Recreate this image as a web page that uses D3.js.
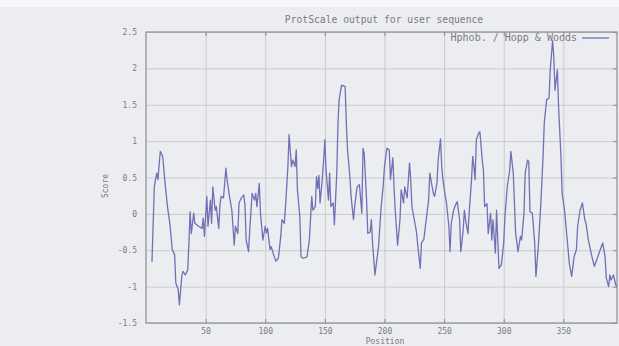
<!DOCTYPE html>
<html>
<head>
<meta charset="utf-8">
<script src="https://cdn.jsdelivr.net/npm/d3@7"></script>
<style>
  body { margin: 0; background: #ededf0; }
  svg { display: block; }
  text { font-family: "DejaVu Sans Mono", monospace; fill: #7a7a84; }
</style>
</head>
<body>
<script>
// ProtScale Hphob. / Hopp & Woods profile
const positions = [5,7,9,10,12,14,16,18,20,22,24,25,27,28,30,31,33,35,36,37,38,40,41,44,47,48,49,51,52,54,55,56,58,59,61,62,63,65,67,68,70,72,74,75,77,78,80,82,83,84,86,87,89,91,92,93,95,96,
  98,100,101,102,104,105,107,109,111,113,114,116,117,119,120,122,123,125,126,127,129,130,132,135,137,139,140,142,143,144,145,146,148,149,150,151,153,154,155,157,158,160,161,162,164,167,168,169,171,172,174,175,177,179,181,182,183,185,186,188,189,190,192,195,197,199,
  200,202,204,205,207,208,209,211,213,214,216,217,219,221,222,223,226,227,228,230,231,233,235,237,238,240,241,242,244,245,247,248,249,251,252,254,255,256,258,259,261,263,264,266,267,268,270,271,273,274,275,276,277,279,280,282,283,284,286,287,289,290,291,293,294,296,298,
  300,301,303,305,306,308,309,310,312,314,315,317,318,320,321,322,324,326,327,329,331,333,334,336,338,339,341,342,343,345,346,348,349,351,353,355,357,359,361,362,364,366,368,369,371,374,376,378,381,383,385,386,388,389,390,392,394,395];
const scores = [-0.66,0.38,0.56,0.47,0.86,0.79,0.42,0.10,-0.13,-0.49,-0.56,-0.95,-1.04,-1.25,-0.86,-0.79,-0.84,-0.77,-0.40,0.03,-0.27,0.01,-0.13,-0.17,-0.20,-0.06,-0.31,0.24,-0.17,0.19,-0.13,0.37,0.05,0.10,-0.20,0.12,0.24,0.22,0.63,0.47,0.24,0.05,-0.43,-0.17,-0.27,0.15,0.22,0.26,0.12,-0.36,-0.52,-0.22,0.28,0.19,0.28,0.10,0.42,0.01,
  -0.36,-0.17,-0.26,-0.20,-0.49,-0.45,-0.56,-0.65,-0.61,-0.31,-0.08,-0.13,0.10,0.65,1.09,0.65,0.74,0.65,0.88,0.33,-0.04,-0.59,-0.61,-0.59,-0.36,0.24,0.05,0.10,0.51,0.35,0.53,0.15,0.51,0.74,1.02,0.60,0.19,0.56,0.10,0.15,-0.15,0.56,1.25,1.57,1.77,1.75,1.25,0.88,0.51,0.24,-0.08,0.10,0.37,0.40,0.01,0.90,0.83,0.19,-0.27,-0.25,-0.08,-0.40,-0.84,-0.45,0.05,0.40,
  0.65,0.90,0.88,0.47,0.77,0.37,0.05,-0.43,-0.08,0.33,0.15,0.37,0.22,0.70,0.47,0.10,-0.17,-0.27,-0.45,-0.75,-0.40,-0.35,-0.08,0.19,0.56,0.37,0.28,0.24,0.42,0.74,1.03,0.65,0.47,0.24,0.15,-0.17,-0.52,-0.13,0.05,0.10,0.17,-0.08,-0.52,-0.22,0.05,-0.08,-0.27,0.01,0.47,0.79,0.65,0.47,1.02,1.11,1.13,0.74,0.60,0.10,0.14,-0.27,0.01,-0.36,-0.08,-0.54,0.05,-0.75,-0.70,
  -0.40,-0.04,0.38,0.60,0.86,0.56,0.15,-0.27,-0.52,-0.31,-0.36,0.01,0.56,0.74,0.72,0.03,0.01,-0.40,-0.86,-0.45,0.10,0.79,1.25,1.57,1.59,1.98,2.38,2.16,1.70,1.98,1.47,0.79,0.28,0.05,-0.31,-0.68,-0.86,-0.59,-0.49,-0.17,0.05,0.15,-0.08,-0.13,-0.36,-0.59,-0.72,-0.63,-0.49,-0.40,-0.59,-0.88,-1.00,-0.84,-0.91,-0.84,-0.98,-1.00];

const xTicks = [50, 100, 150, 200, 250, 300, 350];
const yTicks = [-1.5, -1, -0.5, 0, 0.5, 1, 1.5, 2, 2.5];
const yTickLabels = ["-1.5", "-1", "-0.5", "0", "0.5", "1", "1.5", "2", "2.5"];

const title = "ProtScale output for user sequence";
const legendLabel = "Hphob. / Hopp & Woods";

const W = 619, H = 346;
const margin = {top: 32, right: 2, bottom: 23, left: 146};
const width = W - margin.left - margin.right;
const height = H - margin.top - margin.bottom;

const svg = d3.select("body").append("svg")
    .attr("width", W)
    .attr("height", H);

// paper background, slightly lighter strip at the top edge
svg.append("rect").attr("width", W).attr("height", H).attr("fill", "#ecedf0");
svg.append("rect").attr("width", W).attr("height", 7).attr("fill", "#f7f7f9");

const x = d3.scaleLinear().domain([0, 395]).range([0, width]);
const y = d3.scaleLinear().domain([-1.5, 2.5]).range([height, 0]);

const g = svg.append("g").attr("transform", `translate(${margin.left},${margin.top})`);

// grid
g.append("g")
    .call(d3.axisLeft(y).tickValues(yTicks).tickSize(-width).tickFormat(""))
    .call(a => a.select(".domain").remove())
    .call(a => a.selectAll("line").attr("stroke", "#cbcbcf"));
g.append("g")
    .attr("transform", `translate(0,${height})`)
    .call(d3.axisBottom(x).tickValues(xTicks).tickSize(-height).tickFormat(""))
    .call(a => a.select(".domain").remove())
    .call(a => a.selectAll("line").attr("stroke", "#cbcbcf"));

// mirrored inward tick marks
g.append("g")
    .call(d3.axisTop(x).tickValues(xTicks).tickSize(-4).tickFormat(""))
    .call(a => a.select(".domain").remove())
    .call(a => a.selectAll("line").attr("stroke", "#8a8a90"));
g.append("g")
    .attr("transform", `translate(0,${height})`)
    .call(d3.axisBottom(x).tickValues(xTicks).tickSize(-4).tickFormat(""))
    .call(a => a.select(".domain").remove())
    .call(a => a.selectAll("line").attr("stroke", "#8a8a90"));
g.append("g")
    .attr("transform", `translate(${width},0)`)
    .call(d3.axisRight(y).tickValues(yTicks).tickSize(-4).tickFormat(""))
    .call(a => a.select(".domain").remove())
    .call(a => a.selectAll("line").attr("stroke", "#8a8a90"));

// tick labels
g.append("g")
    .call(d3.axisLeft(y).tickValues(yTicks).tickSize(0).tickPadding(9)
        .tickFormat((d, i) => yTickLabels[i]))
    .call(a => a.select(".domain").remove())
    .call(a => a.selectAll("text").attr("font-size", 8).attr("fill", "#7a7a84")
        .attr("font-family", "DejaVu Sans Mono"));
g.append("g")
    .attr("transform", `translate(0,${height})`)
    .call(d3.axisBottom(x).tickValues(xTicks).tickSize(0).tickPadding(5))
    .call(a => a.select(".domain").remove())
    .call(a => a.selectAll("text").attr("font-size", 8).attr("fill", "#7a7a84")
        .attr("font-family", "DejaVu Sans Mono"));

// frame
g.append("rect")
    .attr("width", width).attr("height", height)
    .attr("fill", "none").attr("stroke", "#8e8e94").attr("stroke-width", 1.2);

// profile line
const line = d3.line()
    .x((d, i) => x(positions[i]))
    .y(d => y(d));

g.append("path")
    .datum(scores)
    .attr("fill", "none")
    .attr("stroke", "#7070b6")
    .attr("stroke-width", 1.3)
    .attr("stroke-linejoin", "round")
    .attr("d", line);

// title, axis labels, legend
svg.append("text")
    .attr("x", 384).attr("y", 23)
    .attr("text-anchor", "middle")
    .attr("font-size", 9.7)
    .text(title);

svg.append("text")
    .attr("x", 385).attr("y", 344)
    .attr("text-anchor", "middle")
    .attr("font-size", 8)
    .text("Position");

svg.append("text")
    .attr("transform", "translate(108,186) rotate(-90)")
    .attr("text-anchor", "middle")
    .attr("font-size", 8)
    .text("Score");

svg.append("text")
    .attr("x", 577).attr("y", 41)
    .attr("text-anchor", "end")
    .attr("font-size", 10)
    .attr("fill", "#7777b4")
    .text(legendLabel);
svg.append("line")
    .attr("x1", 582).attr("x2", 609)
    .attr("y1", 38).attr("y2", 38)
    .attr("stroke", "#7070b6").attr("stroke-width", 1.3);
</script>
</body>
</html>
